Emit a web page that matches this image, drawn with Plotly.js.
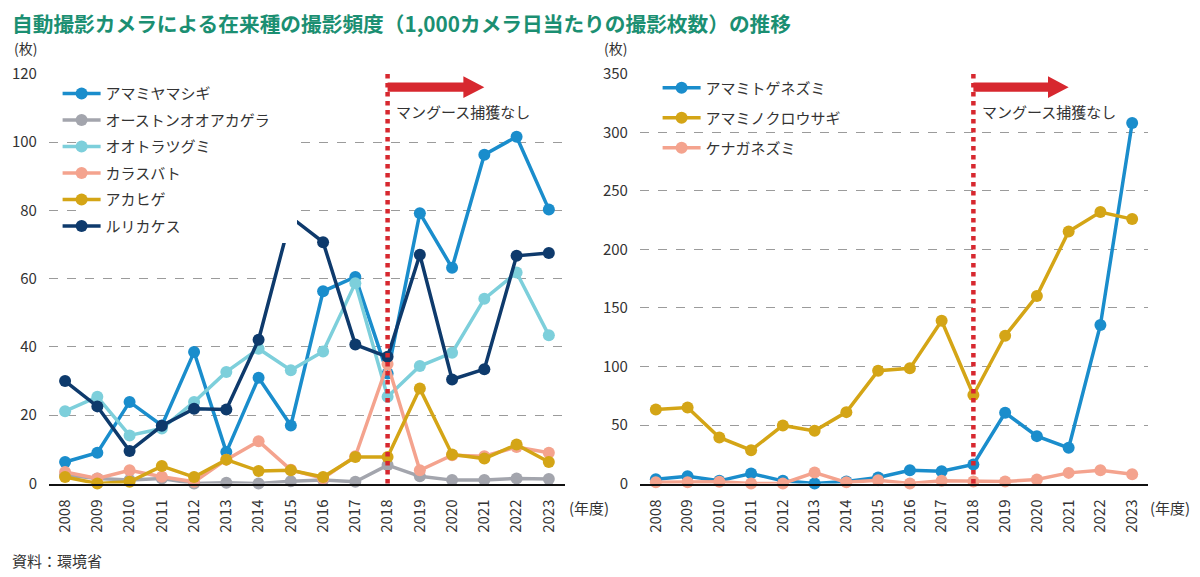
<!DOCTYPE html>
<html>
<head>
<meta charset="utf-8">
<script src="https://cdn.plot.ly/plotly-3.0.1.min.js"></script>
<style>
  html, body { margin: 0; padding: 0; background: #fff; }
  #chart { width: 1200px; height: 577px; }
</style>
</head>
<body>
<div id="chart"></div>
<script>
// 年度
const years = [2008, 2009, 2010, 2011, 2012, 2013, 2014, 2015, 2016, 2017, 2018, 2019, 2020, 2021, 2022, 2023];
const yearLabels = years.map(String);

// 鳥類（左のグラフ）
const amamiYamashigi = [6.3, 9.0, 23.9, 17.0, 38.5, 9.2, 31.0, 17.0, 56.3, 60.5, 32.2, 79.2, 63.2, 96.3, 101.6, 80.3];
const ostonOoakagera = [2.5, 1.5, 1.0, 1.5, 0.0, 0.2, 0.0, 0.7, 1.0, 0.5, 5.4, 2.1, 1.0, 1.0, 1.5, 1.3];
const ootoraTsugumi = [21.2, 25.4, 14.1, 16.1, 23.9, 32.7, 39.5, 33.2, 38.7, 58.7, 25.4, 34.4, 38.3, 54.1, 61.8, 43.4];
const karasubato = [3.4, 1.5, 3.9, 2.0, 0.5, 7.0, 12.4, 4.0, 1.5, 8.0, 35.0, 3.9, 8.3, 8.0, 10.7, 9.0];
const akahige = [1.9, 0.0, 0.5, 5.1, 1.9, 7.0, 3.7, 3.9, 1.9, 7.8, 7.8, 27.8, 8.5, 7.3, 11.4, 6.3];
const rurikakesu = [30.0, 22.6, 9.5, 16.9, 21.9, 21.7, 42.1, 78.0, 70.7, 40.7, 37.1, 67.0, 30.5, 33.5, 66.7, 67.5];

// 哺乳類（右のグラフ）
const amamiTogeNezumi = [3.7, 6.3, 2.3, 8.6, 2.3, 0.0, 1.7, 5.1, 11.4, 10.5, 16.3, 60.4, 40.5, 30.5, 135.5, 308.0];
const amamiNoKurousagi = [63.3, 65.0, 39.4, 28.5, 49.6, 45.0, 61.0, 96.4, 98.4, 139.1, 75.6, 126.3, 160.3, 215.3, 231.9, 225.9];
const kenagaNezumi = [1.0, 1.0, 1.5, 0.0, 0.0, 9.4, 1.0, 2.9, 0.0, 2.3, 1.7, 1.7, 3.4, 9.1, 11.4, 8.0];

const FONT = '"Noto Sans CJK JP", "Noto Sans", sans-serif';
const TEXT = '#333333';
const RED = '#d7282f';
const MARK_YEAR = 2018;   // マングース捕獲なし の開始年度

// 折れ線 + マーカーの trace を作る
function lineTrace(name, values, color, xaxis, yaxis, legend) {
    return {
        x: years,
        y: values,
        name: name,
        type: 'scatter',
        mode: 'lines+markers',
        line: { color: color, width: 3.5 },
        marker: { color: color, size: 12 },
        cliponaxis: false,
        xaxis: xaxis,
        yaxis: yaxis,
        legend: legend,
        legendgroup: name
    };
}

const data = [
    lineTrace('アマミヤマシギ', amamiYamashigi, '#1a8dcc', 'x', 'y', 'legend'),
    lineTrace('オーストンオオアカゲラ', ostonOoakagera, '#a3a5ad', 'x', 'y', 'legend'),
    lineTrace('オオトラツグミ', ootoraTsugumi, '#7dcfdb', 'x', 'y', 'legend'),
    lineTrace('カラスバト', karasubato, '#f4a38e', 'x', 'y', 'legend'),
    lineTrace('アカヒゲ', akahige, '#d4a516', 'x', 'y', 'legend'),
    lineTrace('ルリカケス', rurikakesu, '#0e3a6c', 'x', 'y', 'legend'),
    lineTrace('アマミトゲネズミ', amamiTogeNezumi, '#1a8dcc', 'x2', 'y2', 'legend2'),
    lineTrace('アマミノクロウサギ', amamiNoKurousagi, '#d4a516', 'x2', 'y2', 'legend2'),
    lineTrace('ケナガネズミ', kenagaNezumi, '#f4a38e', 'x2', 'y2', 'legend2')
];

// 共通の軸設定
function xAxis(domain) {
    return {
        domain: domain,
        range: [2007.5, 2023.5],
        tickmode: 'array',
        tickvals: years,
        ticktext: yearLabels,
        tickangle: -90,
        ticks: 'outside', ticklen: 8, tickcolor: 'rgba(0,0,0,0)',
        tickfont: { family: FONT, size: 15, color: TEXT },
        showgrid: false,
        zeroline: false,
        showline: true, linecolor: '#111', linewidth: 2,
        fixedrange: true
    };
}
function yAxis(max, step, anchor) {
    return {
        domain: [0.162, 0.872],
        range: [0, max],
        dtick: step,
        anchor: anchor,
        ticks: 'outside', ticklen: 8, tickcolor: 'rgba(0,0,0,0)',
        tickfont: { family: FONT, size: 15, color: TEXT },
        gridcolor: '#9b9b9b', gridwidth: 1, griddash: 'dash',
        zeroline: false,
        showline: false,
        fixedrange: true
    };
}

// 右向き矢印（x: データ座標, y: paper座標）
function arrowPath(x0) {
    const yc = 0.849, h = 0.008, H = 0.019;
    const xb = x0 + 2.35, xt = x0 + 3.0;
    return 'M' + x0 + ',' + (yc + h) + ' L' + xb + ',' + (yc + h) + ' L' + xb + ',' + (yc + H) +
        ' L' + xt + ',' + yc + ' L' + xb + ',' + (yc - H) + ' L' + xb + ',' + (yc - h) +
        ' L' + x0 + ',' + (yc - h) + ' Z';
}

const legendBase = {
    font: { family: FONT, size: 15, color: TEXT },
    bgcolor: 'rgba(0,0,0,0)',
    xanchor: 'left', yanchor: 'top',
    itemwidth: 38,
    itemclick: false, itemdoubleclick: false
};

const layout = {
    width: 1200,
    height: 577,
    margin: { l: 0, r: 0, t: 0, b: 0 },
    paper_bgcolor: '#fff',
    plot_bgcolor: 'rgba(0,0,0,0)',
    font: { family: FONT, color: TEXT },
    xaxis: xAxis([0.0408, 0.4708]),
    yaxis: yAxis(120, 20, 'x'),
    xaxis2: xAxis([0.5333, 0.9567]),
    yaxis2: yAxis(350, 50, 'x2'),
    legend: Object.assign({}, legendBase, { x: 0.048, y: 0.866, tracegroupgap: 4 }),
    legend2: Object.assign({}, legendBase, { x: 0.548, y: 0.876, tracegroupgap: 7.5 }),
    shapes: [
        // 凡例の白い背景（ルリカケスの線が隠れる部分）
        { type: 'rect', xref: 'paper', yref: 'paper', x0: 0.065, x1: 0.2475, y0: 0.579, y1: 0.861,
          fillcolor: '#fff', line: { width: 0 }, layer: 'above' },
        // 2018年度の赤い点線
        { type: 'line', xref: 'x', yref: 'paper', x0: MARK_YEAR, x1: MARK_YEAR, y0: 0.162, y1: 0.872,
          line: { color: RED, width: 4.5, dash: 'dot' }, layer: 'above' },
        { type: 'line', xref: 'x2', yref: 'paper', x0: MARK_YEAR, x1: MARK_YEAR, y0: 0.162, y1: 0.872,
          line: { color: RED, width: 4.5, dash: 'dot' }, layer: 'above' },
        { type: 'path', xref: 'x', yref: 'paper', path: arrowPath(MARK_YEAR),
          fillcolor: RED, line: { width: 0 }, layer: 'above' },
        { type: 'path', xref: 'x2', yref: 'paper', path: arrowPath(MARK_YEAR),
          fillcolor: RED, line: { width: 0 }, layer: 'above' }
    ],
    annotations: [
        { text: '自動撮影カメラによる在来種の撮影頻度（1,000カメラ日当たりの撮影枚数）の推移',
          xref: 'paper', yref: 'paper', x: 0.0083, y: 0.96, xanchor: 'left', yanchor: 'middle',
          showarrow: false, font: { family: FONT, size: 20.7, color: '#1b8f72', weight: 'bold' } },
        { text: '(枚)', xref: 'paper', yref: 'paper', x: 0.01, y: 0.917, xanchor: 'left', yanchor: 'middle',
          showarrow: false, font: { size: 14, color: TEXT } },
        { text: '(枚)', xref: 'paper', yref: 'paper', x: 0.502, y: 0.917, xanchor: 'left', yanchor: 'middle',
          showarrow: false, font: { size: 14, color: TEXT } },
        { text: '(年度)', xref: 'paper', yref: 'paper', x: 0.4725, y: 0.12, xanchor: 'left', yanchor: 'middle',
          showarrow: false, font: { size: 15, color: TEXT } },
        { text: '(年度)', xref: 'paper', yref: 'paper', x: 0.957, y: 0.12, xanchor: 'left', yanchor: 'middle',
          showarrow: false, font: { size: 15, color: TEXT } },
        { text: 'マングース捕獲なし', xref: 'x', yref: 'paper', x: MARK_YEAR + 0.2, y: 0.806,
          xanchor: 'left', yanchor: 'middle', showarrow: false, font: { size: 15, color: TEXT } },
        { text: 'マングース捕獲なし', xref: 'x2', yref: 'paper', x: MARK_YEAR + 0.2, y: 0.806,
          xanchor: 'left', yanchor: 'middle', showarrow: false, font: { size: 15, color: TEXT } },
        { text: '資料：環境省', xref: 'paper', yref: 'paper', x: 0.0083, y: 0.028,
          xanchor: 'left', yanchor: 'middle', showarrow: false, font: { size: 15, color: TEXT } }
    ]
};

Plotly.newPlot('chart', data, layout, { displayModeBar: false, staticPlot: true });
</script>
</body>
</html>
